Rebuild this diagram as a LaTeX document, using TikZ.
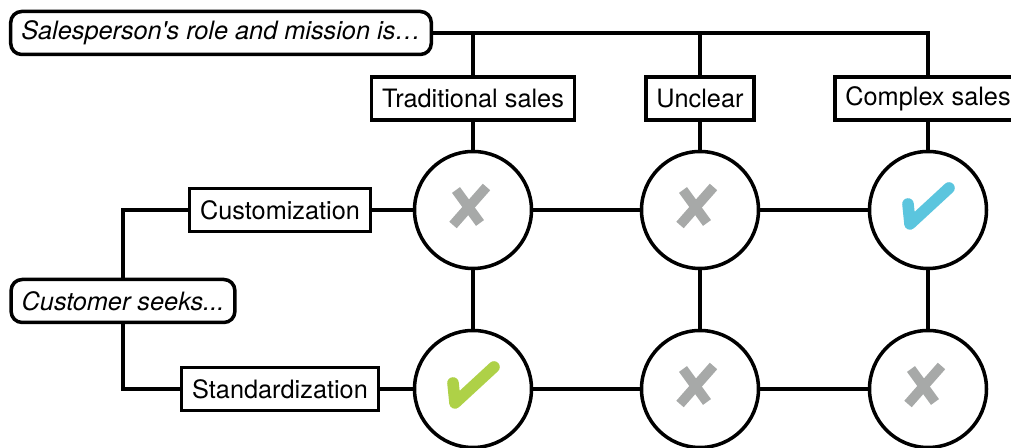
\documentclass[tikz,border=0pt]{standalone}
\usepackage{fontspec}
\setmainfont{TeX Gyre Heros}
\usetikzlibrary{calc}
\definecolor{markgray}{HTML}{A7A9A8}
\definecolor{tickblue}{HTML}{5BC5DE}
\definecolor{tickgreen}{HTML}{AED147}
\def\crossmark(#1){\draw[line width=5.6pt, color=markgray] ($(#1)+(-0.40,-0.30)$) -- ($(#1)+(0.27,0.46)$);
	\draw[line width=5.6pt, color=markgray] ($(#1)+(-0.34,0.40)$) -- ($(#1)+(0.14,-0.26)$);}
\def\tickmark[#1](#2){\draw[line width=6.6pt, color=#1, line cap=round, line join=round] ($(#2)+(-0.40,0.12)$) -- ($(#2)+(-0.36,-0.28)$) -- ($(#2)+(0.42,0.44)$);}

\begin{document}
\begin{tikzpicture}[
		every node/.style={font=\fontsize{14.4}{16}\selectfont},
		label box/.style={draw, line width=2pt, inner xsep=6pt, minimum height=0.86cm},
		lead box/.style={label box, rounded corners=0.22cm, font=\fontsize{14.4}{16}\selectfont\itshape},
		cell/.style={draw, circle, line width=2pt, minimum size=2.34cm},
		link/.style={line width=1.8pt}
	]
		%%%%% START %%%%%
		\useasboundingbox (0, 0) rectangle (20.22, 8.96);
		
		\node[lead box] (role) at (4.42, 8.30) {Salesperson\textquotesingle s role and mission is…};
		\node[lead box] (seeks) at (2.46, 2.94) {Customer seeks...};
		
		\node[label box] (trad) at (9.46, 6.99) {Traditional sales};
		\node[label box] (uncl) at (14.00, 6.99) {Unclear};
		\node[label box] (cplx) at (18.56, 6.99) {Complex sales};
		
		\node[label box] (cust) at (5.60, 4.76) {Customization};
		\node[label box] (std) at (5.60, 1.18) {Standardization};
		
		\node[cell] (c1) at (9.46, 4.76) {};
		\node[cell] (c2) at (14.00, 4.76) {};
		\node[cell] (c3) at (18.56, 4.76) {};
		\node[cell] (c4) at (9.46, 1.18) {};
		\node[cell] (c5) at (14.00, 1.18) {};
		\node[cell] (c6) at (18.56, 1.18) {};
		
		\draw[link] (role.east) -| (cplx.north);
		\draw[link] (trad.north |- role.east) -- (trad.north);
		\draw[link] (uncl.north |- role.east) -- (uncl.north);
		\draw[link] (seeks.north) |- (cust.west);
		\draw[link] (seeks.south) |- (std.west);
		
		\draw[link] (trad) -- (c1);
		\draw[link] (uncl) -- (c2);
		\draw[link] (cplx) -- (c3);
		\draw[link] (cust) -- (c1);
		\draw[link] (std) -- (c4);
		\draw[link] (c1) -- (c2);
		\draw[link] (c2) -- (c3);
		\draw[link] (c4) -- (c5);
		\draw[link] (c5) -- (c6);
		\draw[link] (c1) -- (c4);
		\draw[link] (c2) -- (c5);
		\draw[link] (c3) -- (c6);
		
		\crossmark(c1)
		\crossmark(c2)
		\tickmark[tickblue](c3)
		\tickmark[tickgreen](c4)
		\crossmark(c5)
		\crossmark(c6)
		
		%%%%% END %%%%%
	\end{tikzpicture}
\end{document}
